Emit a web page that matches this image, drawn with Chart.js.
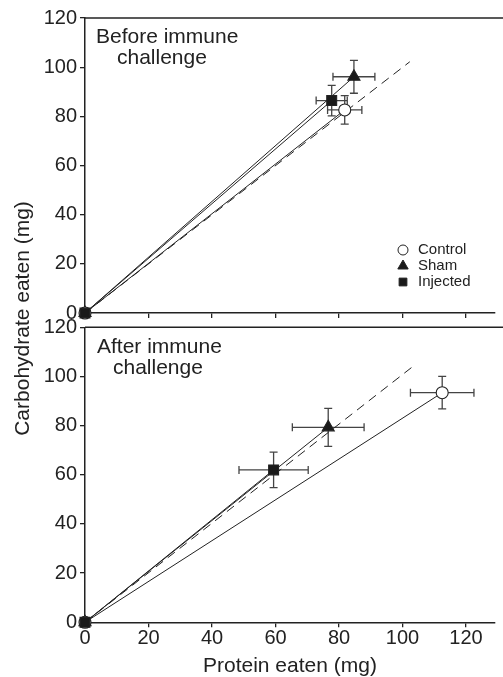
<!DOCTYPE html>
<html>
<head>
<meta charset="utf-8">
<script src="https://cdn.jsdelivr.net/npm/chart.js@4.4.0/dist/chart.umd.min.js"></script>
<style>
  html, body { margin: 0; padding: 0; background: #fff; }
  #wrap { position: relative; width: 503px; height: 677px; }
  #wrap canvas { position: absolute; left: 0; top: 0; }
</style>
</head>
<body>
<div id="wrap">
  <canvas id="before" width="503" height="677" style="width:503px;height:677px"></canvas>
  <canvas id="after" width="503" height="677" style="width:503px;height:677px"></canvas>
</div>
<script>
const groups = ["Control", "Sham", "Injected"];
const pointStyles = ["circle", "triangle", "rect"];

// before immune challenge (mg eaten, mean and error)
const beforeProtein = [81.8, 84.7, 77.7];
const beforeProteinErr = [5.4, 6.6, 4.9];
const beforeCarb = [82.6, 96.1, 86.4];
const beforeCarbErr = [5.8, 6.7, 6.2];
const beforeRailProtein = [0, 102.3];
const beforeRailCarb = [0, 102.2];

// after immune challenge
const afterProtein = [112.5, 76.6, 59.4];
const afterProteinErr = [10.0, 11.3, 10.9];
const afterCarb = [93.4, 79.3, 62.0];
const afterCarbErr = [6.6, 7.7, 7.2];
const afterRailProtein = [0, 104.2];
const afterRailCarb = [0, 105.0];

const xTicks = [0, 20, 40, 60, 80, 100, 120];
const yTicks = [0, 20, 40, 60, 80, 100, 120];

const FONT = "'Liberation Sans', Arial, Helvetica, sans-serif";
const INK = "#222";

const errorBars = {
  id: "errorBars",
  beforeDatasetsDraw(chart) {
    const { ctx, scales: { x, y } } = chart;
    ctx.save();
    ctx.strokeStyle = "#444";
    ctx.lineWidth = 1.3;
    chart.data.datasets.forEach(ds => {
      if (!ds.errX) return;
      ds.data.forEach((p, j) => {
        const ex = ds.errX[j], ey = ds.errY[j];
        if (!ex && !ey) return;
        const cx = x.getPixelForValue(p.x), cy = y.getPixelForValue(p.y);
        const x0 = x.getPixelForValue(p.x - ex), x1 = x.getPixelForValue(p.x + ex);
        const y0 = y.getPixelForValue(p.y - ey), y1 = y.getPixelForValue(p.y + ey);
        const cap = 4;
        ctx.beginPath();
        ctx.moveTo(x0, cy); ctx.lineTo(x1, cy);
        ctx.moveTo(x0, cy - cap); ctx.lineTo(x0, cy + cap);
        ctx.moveTo(x1, cy - cap); ctx.lineTo(x1, cy + cap);
        ctx.moveTo(cx, y0); ctx.lineTo(cx, y1);
        ctx.moveTo(cx - cap, y0); ctx.lineTo(cx + cap, y0);
        ctx.moveTo(cx - cap, y1); ctx.lineTo(cx + cap, y1);
        ctx.stroke();
      });
    });
    ctx.restore();
  }
};

// top frame line + panel caption (+ legend / y title where asked)
function panelDecor(caption, extra) {
  return {
    id: "panelDecor",
    afterDraw(chart) {
      const { ctx, chartArea } = chart;
      ctx.save();
      ctx.strokeStyle = INK;
      ctx.lineWidth = 1.5;
      ctx.beginPath();
      ctx.moveTo(chartArea.left, chartArea.top);
      ctx.lineTo(chart.width, chartArea.top);
      ctx.stroke();
      ctx.fillStyle = INK;
      ctx.font = "21px " + FONT;
      ctx.textAlign = "left";
      ctx.textBaseline = "middle";
      caption.forEach(c => ctx.fillText(c.text, c.x, c.y));
      if (extra) extra(chart, ctx);
      ctx.restore();
    }
  };
}

function drawLegend(chart, ctx) {
  const lx = 403, tx = 418, ly = [250, 266, 282];
  const sizes = [5, 6, 5.5];
  const fills = ["#fff", "#1a1a1a", "#1a1a1a"];
  ctx.font = "15px " + FONT;
  ctx.textBaseline = "middle";
  groups.forEach((g, i) => {
    ctx.fillStyle = fills[i];
    ctx.strokeStyle = INK;
    ctx.lineWidth = 1;
    Chart.helpers.drawPoint(ctx, { pointStyle: pointStyles[i], radius: sizes[i], rotation: 0, borderWidth: 1 }, lx, ly[i]);
    ctx.fillStyle = INK;
    ctx.fillText(g, tx, ly[i]);
  });
}

function drawYTitle(chart, ctx) {
  ctx.save();
  ctx.translate(23.5, 318.5);
  ctx.rotate(-Math.PI / 2);
  ctx.font = "21px " + FONT;
  ctx.fillStyle = INK;
  ctx.textAlign = "center";
  ctx.textBaseline = "middle";
  ctx.fillText("Carbohydrate eaten (mg)", 0, 0);
  ctx.restore();
}

function buildDatasets(protein, carb, proteinErr, carbErr, railX, railY) {
  const radii = [6, 7, 7];
  const fills = ["#fff", "#1a1a1a", "#1a1a1a"];
  const orders = [1, 2, 0];
  const sets = groups.map((g, i) => ({
    label: g,
    data: [{ x: 0, y: 0 }, { x: protein[i], y: carb[i] }],
    errX: [0, proteinErr[i]],
    errY: [0, carbErr[i]],
    showLine: true,
    borderColor: INK,
    borderWidth: 1,
    pointStyle: pointStyles[i],
    pointRadius: radii[i],
    pointBackgroundColor: fills[i],
    pointBorderColor: INK,
    pointBorderWidth: 1.1,
    clip: false,
    order: orders[i]
  }));
  sets.push({
    label: "rail",
    data: railX.map((v, k) => ({ x: v, y: railY[k] })),
    showLine: true,
    borderColor: INK,
    borderWidth: 1,
    borderDash: [9, 6],
    pointRadius: 0,
    clip: false,
    order: 10
  });
  return sets;
}

function makePanel(id, datasets, cfg) {
  return new Chart(document.getElementById(id), {
    type: "scatter",
    data: { datasets },
    options: {
      responsive: false,
      animation: false,
      events: [],
      layout: { padding: { top: cfg.padTop, bottom: cfg.padBottom, left: 0, right: 0 } },
      plugins: { legend: { display: false }, tooltip: { enabled: false } },
      scales: {
        x: {
          type: "linear",
          min: 0,
          max: 129.1,
          afterBuildTicks: s => { s.ticks = xTicks.map(v => ({ value: v })); },
          afterFit: s => { s.height = cfg.xHeight; },
          grid: { display: true, drawOnChartArea: false, drawTicks: true, tickLength: 5, color: INK, lineWidth: 1.3 },
          border: { display: true, color: INK, width: 1.5 },
          ticks: { display: cfg.xLabels, padding: 1, color: INK, font: { family: FONT, size: 20, lineHeight: 1 } },
          title: {
            display: cfg.xLabels,
            text: "Protein eaten (mg)",
            color: INK,
            padding: { top: 0, bottom: 0 },
            font: { family: FONT, size: 21, lineHeight: 1 }
          }
        },
        y: {
          type: "linear",
          min: 0,
          max: 120,
          afterBuildTicks: s => { s.ticks = yTicks.map(v => ({ value: v })); },
          afterFit: s => { s.width = 85; },
          grid: { display: true, drawOnChartArea: false, drawTicks: true, tickLength: 5, color: INK, lineWidth: 1.3 },
          border: { display: true, color: INK, width: 1.5 },
          ticks: { padding: 3, color: INK, font: { family: FONT, size: 20 } }
        }
      }
    },
    plugins: [errorBars, panelDecor(cfg.caption, cfg.extra)]
  });
}

makePanel("before",
  buildDatasets(beforeProtein, beforeCarb, beforeProteinErr, beforeCarbErr, beforeRailProtein, beforeRailCarb),
  {
    padTop: 18, padBottom: 356, xHeight: 8, xLabels: false,
    caption: [{ text: "Before immune", x: 96, y: 37 }, { text: "challenge", x: 117, y: 58 }],
    extra: drawLegend
  });

makePanel("after",
  buildDatasets(afterProtein, afterCarb, afterProteinErr, afterCarbErr, afterRailProtein, afterRailCarb),
  {
    padTop: 327.3, padBottom: 0, xHeight: 54.7, xLabels: true,
    caption: [{ text: "After immune", x: 97, y: 347 }, { text: "challenge", x: 113, y: 368 }],
    extra: drawYTitle
  });
</script>
</body>
</html>
